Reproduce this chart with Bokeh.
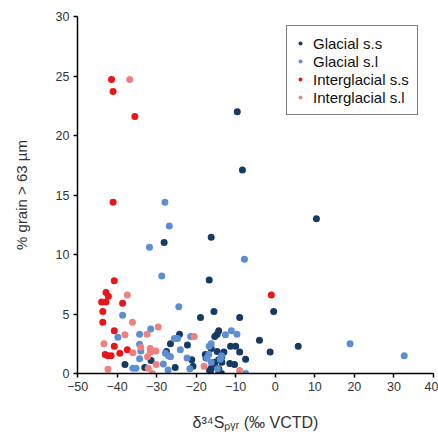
from bokeh.plotting import figure
from bokeh.models import Range1d, SingleIntervalTicker
from bokeh.embed import file_html
from bokeh.resources import INLINE

# ---- data ----
gss_x = [-9.6, -8.3, 10.4, -28.1, -16.2, -16.7, -15.5, -18.9, -9.0, -0.4, -24.2, -4.0, 5.8, -26.5,
         -22.2, -14.3, -14.7, -15.3, -11.3, -10.0, -9.0, -1.3, -7.5, -13.0, -14.7, -17.7, -13.5,
         -11.5, -10.3, -15.3, -16.2, -16.4, -14.3, -13.6, -38.0, -33.0, -31.4, -25.3, -27.5, -21.1,
         -20.8, -17.5, -15.3, -16.2, -14.3, -13.5, -16.6, -14.3]
gss_y = [22.0, 17.1, 13.0, 11.0, 11.45, 7.85, 5.2, 4.7, 4.7, 5.2, 3.3, 2.8, 2.3, 2.5,
         2.4, 3.6, 3.3, 3.1, 2.3, 2.3, 1.8, 1.8, 1.2, 1.8, 1.85, 1.6, 1.4,
         0.85, 0.75, 0.95, 0.45, 0.1, 0.0, 0.0, 0.75, 0.5, 1.1, 0.5, 1.85, 1.15,
         0.6, 1.3, 0.6, 2.1, 1.15, 0.95, 0.25, 0.4]

gsl_x = [-27.9, -26.8, -31.8, -7.8, -28.7, -24.4, -38.6, -31.5, -39.8, -34.3, -34.3, -34.0, -34.3,
         -36.0, -35.2, -25.5, -24.7, -24.0, -27.8, -27.0, -26.5, -28.3, -27.1, -21.4, -22.3, -21.6,
         -16.2, -16.7, -11.1, -9.7, -12.6, -17.3, -13.9, -16.2, -13.6, -7.5, 18.9, 32.6, -14.6, -16.8]
gsl_y = [14.4, 12.4, 10.6, 9.6, 8.2, 5.6, 4.9, 3.75, 3.05, 3.3, 2.45, 1.9, 1.25,
         0.45, 0.45, 2.95, 2.95, 2.0, 1.7, 1.5, 1.4, 0.8, 0.3, 3.1, 1.3, 0.4,
         2.5, 2.3, 3.6, 3.3, 3.25, 1.3, 1.2, 0.95, 1.5, 0.0, 2.5, 1.5, 0.4, 1.6]

iss_x = [-41.4, -41.0, -35.5, -41.0, -40.7, -42.8, -42.2, -43.9, -42.8, -38.6, -43.6, -43.6,
         -40.7, -40.7, -37.4, -39.3, -43.0, -42.3, -41.5, -1.0]
iss_y = [24.7, 23.7, 21.6, 14.4, 7.8, 6.8, 6.5, 6.0, 6.0, 5.9, 5.2, 4.3,
         3.6, 2.3, 2.0, 1.7, 1.6, 1.5, 1.5, 6.6]

isl_x = [-36.8, -37.4, -36.1, -38.0, -32.4, -29.6, -43.3, -36.0, -34.0, -31.6, -31.6, -30.2,
         -32.3, -30.1, -32.1, -31.1, -42.3, -18.0, -20.5, -9.0]
isl_y = [24.7, 6.6, 4.3, 3.25, 3.3, 3.9, 2.5, 1.75, 2.2, 2.1, 1.8, 1.9,
         1.4, 0.75, 0.45, 0.0, 0.35, 0.6, 3.1, 0.25]

series_names = ["Glacial s.s", "Glacial s.l", "Interglacial s.s", "Interglacial s.l"]
y_title = "% grain > 63 µm"
x_title = "δ³⁴Sₚᵧᵣ (‰ VCTD)"
x_ticks_interval = 10
y_ticks_interval = 5

# ---- styling ----
colors = ["#163a63", "#5b8fd2", "#e8161b", "#f07f7f"]
FONT = "Liberation Sans"
TXT = "#333333"

p = figure(width=438, height=434, output_backend="svg", toolbar_location=None,
           x_range=Range1d(-50, 40), y_range=Range1d(0, 30),
           min_border_left=77, min_border_right=5, min_border_top=16, min_border_bottom=61)

for (xs, ys), name, c in zip([(gss_x, gss_y), (gsl_x, gsl_y), (iss_x, iss_y), (isl_x, isl_y)],
                             series_names, colors):
    p.scatter(xs, ys, size=7, fill_color=c, line_color=None, legend_label=name)

p.outline_line_color = None
p.xgrid.visible = False
p.ygrid.visible = False
p.xaxis.ticker = SingleIntervalTicker(interval=x_ticks_interval)
p.yaxis.ticker = SingleIntervalTicker(interval=y_ticks_interval)
for ax in (p.xaxis[0], p.yaxis[0]):
    ax.axis_line_color = "black"
    ax.axis_line_width = 1.5
    ax.major_tick_line_color = "black"
    ax.major_tick_line_width = 1.5
    ax.major_tick_out = 4
    ax.major_tick_in = 0
    ax.minor_tick_line_color = None
    ax.major_label_text_font = FONT
    ax.major_label_text_font_size = "12.5px"
    ax.major_label_text_color = TXT
    ax.major_label_standoff = 4
    ax.axis_label_text_font = FONT
    ax.axis_label_text_font_style = "normal"
    ax.axis_label_text_color = TXT

p.yaxis.axis_label = y_title
p.yaxis.axis_label_text_font_size = "15px"
p.yaxis.axis_label_standoff = 23

p.xaxis.axis_label = x_title
p.xaxis.axis_label_text_font_size = "16px"
p.xaxis.axis_label_standoff = 20

leg = p.legend[0]
leg.location = (209, 258)
leg.padding = 8
leg.spacing = 0
leg.glyph_width = 10
leg.glyph_height = 10
leg.label_height = 18
leg.label_standoff = 8
leg.label_text_font = FONT
leg.label_text_font_size = "15px"
leg.label_text_color = "#111111"
leg.border_line_color = "black"
leg.border_line_width = 1.5
leg.background_fill_color = "white"
leg.background_fill_alpha = 1.0

open("out.html", "w").write(file_html(p, INLINE))
